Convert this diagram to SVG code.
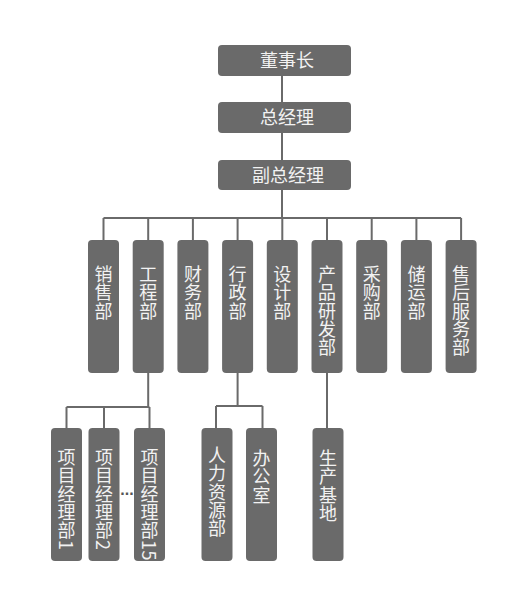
<svg xmlns="http://www.w3.org/2000/svg" width="526" height="609" viewBox="0 0 526 609">
<style>
.box{fill:#6a6a6a}
.ln{stroke:#6a6a6a;stroke-width:2;fill:none}
.t{fill:#f2f2f2;font-family:"Noto Sans CJK SC","Microsoft YaHei",sans-serif;font-size:18px}
.h{text-anchor:middle}
.v{writing-mode:vertical-rl;letter-spacing:0.4px}
</style>
<rect width="526" height="609" fill="#ffffff"/>
<g id="connectors">
<path class="ln" d="M282 76V102M282 133V160M282 190V218M103.5 218H461.1M103.5 218V240M148.2 218V240M192.9 218V240M237.6 218V240M282.3 218V240M327 218V240M371.7 218V240M416.4 218V240M461.1 218V240"/>
<path class="ln" d="M148.2 373V407M66.5 407H149.5M66.5 407V428M104 407V428M149.5 407V428"/>
<path class="ln" d="M237.6 373V406M216 406H262.5M216 406V428M262.5 406V428"/>
<path class="ln" d="M327 373V428"/>
</g>
<g id="dongshizhang"><rect class="box" x="218" y="45" width="133" height="31" rx="4"/><text class="t h" x="287" y="67">董事长</text></g>
<g id="zongjingli"><rect class="box" x="218" y="102" width="133" height="31" rx="4"/><text class="t h" x="287" y="124">总经理</text></g>
<g id="fuzongjingli"><rect class="box" x="218" y="160" width="133" height="30" rx="4"/><text class="t h" x="288" y="182">副总经理</text></g>
<g id="xiaoshou"><rect class="box" x="88" y="240" width="31" height="133" rx="4"/><text class="t v" x="103.5" y="265">销售部</text></g>
<g id="gongcheng"><rect class="box" x="132.7" y="240" width="31" height="133" rx="4"/><text class="t v" x="148.2" y="265">工程部</text></g>
<g id="caiwu"><rect class="box" x="177.4" y="240" width="31" height="133" rx="4"/><text class="t v" x="192.9" y="265">财务部</text></g>
<g id="xingzheng"><rect class="box" x="222.1" y="240" width="31" height="133" rx="4"/><text class="t v" x="237.6" y="265">行政部</text></g>
<g id="sheji"><rect class="box" x="266.8" y="240" width="31" height="133" rx="4"/><text class="t v" x="282.3" y="265">设计部</text></g>
<g id="chanpin"><rect class="box" x="311.5" y="240" width="31" height="133" rx="4"/><text class="t v" x="327" y="265">产品研发部</text></g>
<g id="caigou"><rect class="box" x="356.2" y="240" width="31" height="133" rx="4"/><text class="t v" x="371.7" y="265">采购部</text></g>
<g id="chuyun"><rect class="box" x="400.9" y="240" width="31" height="133" rx="4"/><text class="t v" x="416.4" y="265">储运部</text></g>
<g id="shouhou"><rect class="box" x="445.6" y="240" width="31" height="133" rx="4"/><text class="t v" x="461.1" y="265">售后服务部</text></g>
<g id="xiangmu1"><rect class="box" x="51" y="428" width="31" height="133" rx="4"/><text class="t v" x="66.5" y="448">项目经理部1</text></g>
<g id="xiangmu2"><rect class="box" x="88.5" y="428" width="31" height="133" rx="4"/><text class="t v" x="104" y="448">项目经理部2</text></g>
<g id="dots"><text x="127" y="495" text-anchor="middle" font-family="Liberation Sans,sans-serif" font-size="16" font-weight="bold" fill="#555555">...</text></g>
<g id="xiangmu15"><rect class="box" x="134" y="428" width="31" height="133" rx="4"/><text class="t v" x="149.5" y="448">项目经理部15</text></g>
<g id="renli"><rect class="box" x="201.5" y="428" width="31" height="133" rx="4"/><text class="t v" x="217" y="446">人力资源部</text></g>
<g id="bangongshi"><rect class="box" x="246" y="428" width="31" height="133" rx="4"/><text class="t v" x="261.5" y="449">办公室</text></g>
<g id="shengchan"><rect class="box" x="312.5" y="428" width="31" height="133" rx="4"/><text class="t v" x="328" y="449">生产基地</text></g>
</svg>
